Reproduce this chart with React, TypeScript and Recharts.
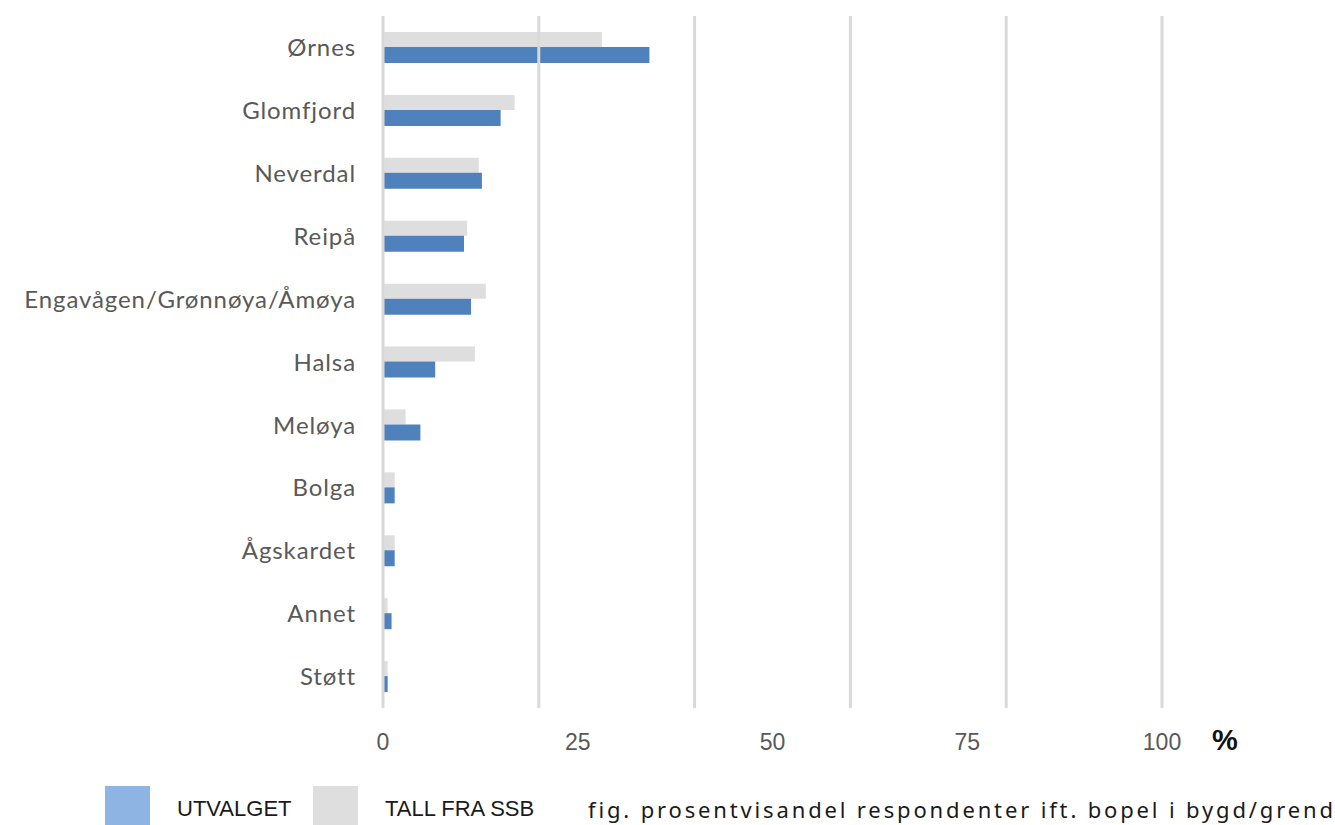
import { BarChart, Bar, XAxis, YAxis, ReferenceLine } from 'recharts';

const places = [
  'Ørnes',
  'Glomfjord',
  'Neverdal',
  'Reipå',
  'Engavågen/Grønnøya/Åmøya',
  'Halsa',
  'Meløya',
  'Bolga',
  'Ågskardet',
  'Annet',
  'Støtt',
];
const utvalget = [34.2, 15.1, 12.7, 10.4, 11.3, 6.7, 4.8, 1.5, 1.5, 1.1, 0.6];
const ssb = [28.1, 16.9, 12.3, 10.8, 13.2, 11.8, 2.9, 1.5, 1.5, 0.6, 0.6];
const xTicks = [0, 25, 50, 75, 100];
const gridLines = [0, 20, 40, 60, 80, 100];

const data = places.map((name, i) => ({ name, utvalget: utvalget[i], ssb: ssb[i] }));

const CategoryTick = (props: any) => {
  const { x, y, payload } = props;
  return (
    <text
      x={x + 1}
      y={y}
      dy="0.36em"
      textAnchor="end"
      fill="#595959"
      fontFamily="Lato, 'Open Sans', sans-serif"
      fontSize={24}
      letterSpacing={0.9}
    >
      {payload.value}
    </text>
  );
};

const ValueTick = (props: any) => {
  const { x, y, payload } = props;
  return (
    <text
      x={x}
      y={y}
      dy={42}
      textAnchor="middle"
      fill="#595959"
      fontFamily="'Liberation Sans', Arial, sans-serif"
      fontSize={23}
    >
      {payload.value}
    </text>
  );
};

export default function App() {
  return (
    <div style={{ position: 'absolute', left: 0, top: 0, width: 1335, height: 825, background: '#fff', overflow: 'hidden' }}>
      <BarChart
        width={1335}
        height={760}
        data={data}
        layout="vertical"
        margin={{ top: 16, right: 173, left: 0, bottom: 0 }}
        barGap={0}
      >
        <XAxis
          type="number"
          domain={[0, 100]}
          ticks={xTicks}
          axisLine={false}
          tickLine={false}
          tickSize={0}
          tickMargin={0}
          height={52}
          tick={<ValueTick />}
        />
        <YAxis
          type="category"
          dataKey="name"
          width={383}
          axisLine={false}
          tickLine={false}
          tickSize={0}
          tickMargin={28}
          interval={0}
          tick={<CategoryTick />}
        />
        {gridLines.map((g) => (
          <ReferenceLine key={g} x={g} stroke="#d9d9d9" strokeWidth={3} />
        ))}
        <Bar dataKey="ssb" fill="#dedede" barSize={15} isAnimationActive={false} />
        <Bar dataKey="utvalget" fill="#4f81bd" barSize={16} isAnimationActive={false} />
      </BarChart>
      <div style={{ position: 'absolute', left: 1212, top: 724, fontFamily: "'Liberation Sans', Arial, sans-serif", fontSize: 29, fontWeight: 600, color: '#111' }}>
        %
      </div>
      <div style={{ position: 'absolute', left: 105, top: 786, width: 45, height: 39, background: '#8eb4e3' }} />
      <div style={{ position: 'absolute', left: 177, top: 795, fontFamily: "'Liberation Sans', Arial, sans-serif", fontSize: 22, color: '#1a1a1a', lineHeight: '28px' }}>
        UTVALGET
      </div>
      <div style={{ position: 'absolute', left: 313, top: 786, width: 45, height: 39, background: '#dedede' }} />
      <div style={{ position: 'absolute', left: 385, top: 795, fontFamily: "'Liberation Sans', Arial, sans-serif", fontSize: 22, color: '#1a1a1a', lineHeight: '28px' }}>
        TALL FRA SSB
      </div>
      <div style={{ position: 'absolute', left: 588, top: 795, fontFamily: "'Noto Sans', sans-serif", fontSize: 22, letterSpacing: 2.85, color: '#1a1a1a', lineHeight: '28px', whiteSpace: 'nowrap' }}>
        fig. prosentvisandel respondenter ift. bopel i bygd/grend
      </div>
    </div>
  );
}
